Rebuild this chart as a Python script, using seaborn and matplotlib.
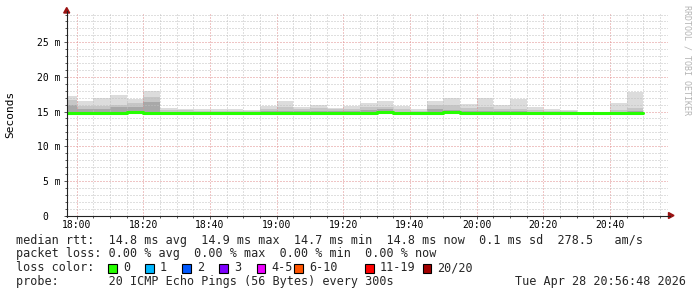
import numpy as np
import pandas as pd
import matplotlib
matplotlib.use("Agg")
import matplotlib.pyplot as plt
import seaborn as sns
from matplotlib.patches import Rectangle, Polygon
from matplotlib.lines import Line2D

# ---------------- data (milliseconds) ----------------
slot_labels = ["17:55", "18:00", "18:05", "18:10", "18:15", "18:20", "18:25", "18:30",
               "18:35", "18:40", "18:45", "18:50", "18:55", "19:00", "19:05", "19:10",
               "19:15", "19:20", "19:25", "19:30", "19:35", "19:40", "19:45", "19:50",
               "19:55", "20:00", "20:05", "20:10", "20:15", "20:20", "20:25", "20:30",
               "20:35", "20:40", "20:45"]
smoke_max = [17.3, 16.5, 17.0, 17.4, 16.8, 18.0, 15.5, 15.4, 15.3, 15.3, 15.3, 15.2,
             15.75, 16.5, 15.6, 16.0, 15.5, 15.75, 16.3, 16.5, 15.75, 15.3, 16.5, 16.95,
             16.1, 16.95, 15.9, 16.75, 15.6, 15.3, 15.2, 15.0, 15.0, 16.3, 17.8]
smoke_mid = [16.6, 15.8, 15.8, 16.0, 16.3, 17.1, 15.25, 15.2, 15.15, 15.15, 15.15, 15.1,
             15.4, 15.6, 15.3, 15.5, 15.3, 15.4, 15.6, 15.7, 15.3, 15.1, 15.9, 15.9,
             15.5, 15.6, 15.3, 15.4, 15.2, 15.1, 15.05, 14.95, 14.95, 15.2, 15.5]
smoke_dark = [16.0, 15.3, 15.3, 15.6, 15.7, 16.4, 15.0, 15.0, 15.0, 15.0, 15.0, 14.95,
              15.1, 15.1, 15.05, 15.1, 15.05, 15.1, 15.2, 15.3, 15.0, 15.0, 15.3, 15.2,
              15.1, 15.1, 15.05, 15.1, 15.0, 14.95, 14.95, 14.9, 14.9, 15.0, 15.1]
smoke_min = [14.75, 14.6, 14.5, 14.65, 14.65, 14.65, 14.7, 14.7, 14.7, 14.7, 14.7, 14.7,
             14.6, 14.65, 14.7, 14.7, 14.7, 14.7, 14.6, 14.7, 14.6, 14.7, 14.7, 14.75,
             14.7, 14.7, 14.7, 14.7, 14.7, 14.55, 14.6, 14.7, 14.7, 14.6, 14.7]
median_rtt = [14.85, 14.8, 14.75, 14.85, 14.9, 14.85, 14.85, 14.85, 14.8, 14.8, 14.8, 14.8,
              14.8, 14.85, 14.85, 14.85, 14.85, 14.85, 14.85, 15.0, 14.75, 14.8, 14.85, 14.9,
              14.85, 14.85, 14.85, 14.85, 14.85, 14.75, 14.8, 14.8, 14.8, 14.8, 14.85]
step_minutes = 5
x_tick_labels = ["18:00", "18:20", "18:40", "19:00", "19:20", "19:40", "20:00", "20:20", "20:40"]
y_tick_values = [0, 5, 10, 15, 20, 25]
y_tick_labels = ["0  ", "5 m", "10 m", "15 m", "20 m", "25 m"]

legend_rtt = "median rtt:  14.8 ms avg  14.9 ms max  14.7 ms min  14.8 ms now  0.1 ms sd  278.5   am/s"
legend_loss = "packet loss: 0.00 % avg  0.00 % max  0.00 % min  0.00 % now"
loss_labels = ["0", "1", "2", "3", "4-5", "6-10", "11-19", "20/20"]
loss_colors = ["#26ff00", "#00b8ff", "#0059ff", "#7e00ff", "#ee00ff", "#ff5500", "#ff0000", "#a10000"]
probe_text = "probe:       20 ICMP Echo Pings (56 Bytes) every 300s"
stamp_text = "Tue Apr 28 20:56:48 2026"


def to_min(s):
    h, m = s.split(":")
    return (int(h) - 18) * 60 + int(m)


starts = np.array([to_min(s) for s in slot_labels], dtype=float)
tick_pos = [to_min(s) for s in x_tick_labels]

# ---------------- figure ----------------
sns.set_theme(style="white")
plt.rcParams["font.family"] = ["DejaVu Sans Mono", "DejaVu Sans"]
W, H = 697, 297
fig = plt.figure(figsize=(W / 100, H / 100), dpi=100, facecolor="white")


def fx(x):
    return x / W


def fy(y):
    return 1 - y / H


ax_l, ax_r, ax_t, ax_b = 66.7, 668.0, 13.5, 215.5
ax = fig.add_axes([fx(ax_l), fy(ax_b), (ax_r - ax_l) / W, (ax_b - ax_t) / H])
ax.set_facecolor("white")
px_per_min = 3.3333
px_per_ms = 6.93
x0 = -(76.7 - ax_l) / px_per_min
ax.set_xlim(x0, x0 + (ax_r - ax_l) / px_per_min)
ax.set_ylim(0, (ax_b - ax_t) / px_per_ms)

# smoke layers
mx = np.array(smoke_max); md = np.array(smoke_mid); dk = np.array(smoke_dark)
mn = np.array(smoke_min); med = np.array(median_rtt)
kw = dict(width=step_minutes, align="edge", linewidth=0, zorder=1)
ax.bar(starts, mx - md, bottom=md, color="#dcdcdc", **kw)
ax.bar(starts, md - dk, bottom=dk, color="#c6c6c6", **kw)
ax.bar(starts, dk - med, bottom=med, color="#a8a8a8", **kw)
ax.bar(starts, med - mn, bottom=mn, color="#cfcfcf", **kw)

# grid
ax.set_xticks(tick_pos)
ax.set_xticks(np.arange(0, 180, 5), minor=True)
ax.set_yticks(y_tick_values)
ax.set_yticks(np.arange(0, 30, 1), minor=True)
ax.grid(which="major", color="#e08c8c", linestyle=(0, (1, 2)), linewidth=0.72, zorder=2)
ax.grid(which="minor", color="#c0c0c0", linestyle=(0, (1, 2)), linewidth=0.72, zorder=2)
ax.set_axisbelow(False)

# median line
df = pd.DataFrame({"t": np.append(starts, starts[-1] + step_minutes),
                   "ms": np.append(med, med[-1])})
sns.lineplot(data=df, x="t", y="ms", drawstyle="steps-post", color="#26ff00",
             linewidth=2.2, ax=ax, zorder=4)

ax.set_xticklabels(x_tick_labels)
ax.set_yticklabels(y_tick_labels)
ax.set_xlabel("")
ax.set_ylabel("")
ax.tick_params(axis="x", which="major", direction="out", length=2, width=0.7,
               pad=1.5, labelsize=7, colors="#000000")
ax.tick_params(axis="x", which="minor", direction="out", length=1.5, width=0.7)
ax.tick_params(axis="y", which="major", direction="out", length=2, width=0.7,
               pad=2.6, labelsize=7, colors="#000000")
ax.tick_params(axis="y", which="minor", direction="out", length=1.5, width=0.7)
ax.tick_params(which="both", bottom=True, left=True, color="#555555")
for s in ax.spines.values():
    s.set_visible(False)

# axis lines with arrows
axis_col = "#222222"
arrow_col = "#9a1111"
fig.add_artist(Line2D([fx(ax_l), fx(ax_l)], [fy(ax_b + 1), fy(11)], color=axis_col,
                      linewidth=0.8, transform=fig.transFigure))
fig.add_artist(Line2D([fx(ax_l - 1), fx(670)], [fy(ax_b), fy(ax_b)], color=axis_col,
                      linewidth=0.8, transform=fig.transFigure))
fig.add_artist(Polygon([[fx(ax_l), fy(7.5)], [fx(ax_l - 3), fy(13)], [fx(ax_l + 3), fy(13)]],
                       closed=True, color=arrow_col, transform=fig.transFigure))
fig.add_artist(Polygon([[fx(674), fy(ax_b)], [fx(668.5), fy(ax_b - 3)], [fx(668.5), fy(ax_b + 3)]],
                       closed=True, color=arrow_col, transform=fig.transFigure))

# texts
mono = "DejaVu Sans Mono"
fig.text(fx(10.5), fy(114), "Seconds", rotation=90, ha="center", va="center",
         fontsize=8, family=mono, color="#000000")
fig.text(fx(687.5), fy(60), "RRDTOOL / TOBI OETIKER", rotation=-90, ha="center", va="center",
         fontsize=6, family=mono, color="#b4b4b4")

fs = 8.5
rows = [243.7, 257.4, 271.1, 284.8]
fig.text(fx(16.2), fy(rows[0]), legend_rtt, fontsize=fs, family=mono, va="baseline")
fig.text(fx(16.2), fy(rows[1]), legend_loss, fontsize=fs, family=mono, va="baseline")
fig.text(fx(16.2), fy(rows[2]), "loss color:", fontsize=fs, family=mono, va="baseline")
box_x = [108.3, 145.0, 182.3, 219.3, 256.7, 294.0, 365.0, 422.7]
for bx, lab, col in zip(box_x, loss_labels, loss_colors):
    fig.add_artist(Rectangle((fx(bx), fy(272.5)), 8.5 / W, 9 / H, facecolor=col,
                             edgecolor="#000000", linewidth=0.8, transform=fig.transFigure))
    fig.text(fx(bx + 14.8), fy(rows[2]), lab, fontsize=fs, family=mono, va="baseline")
fig.text(fx(16.2), fy(rows[3]), probe_text, fontsize=fs, family=mono, va="baseline")
fig.text(fx(686), fy(rows[3]), stamp_text, fontsize=fs, family=mono, va="baseline", ha="right")

fig.savefig("out.png", dpi=100, facecolor="white")
